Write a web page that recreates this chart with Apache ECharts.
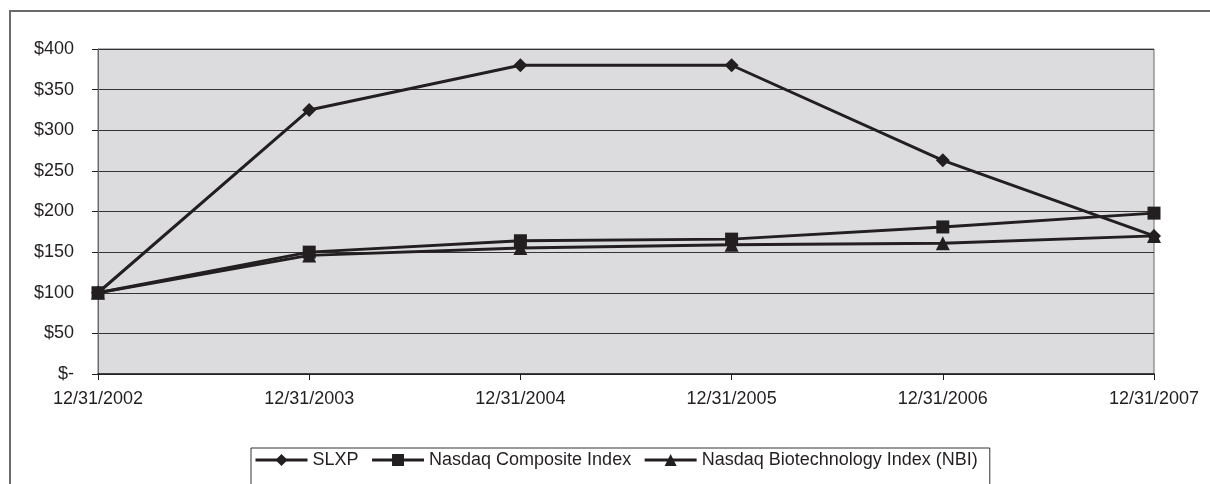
<!DOCTYPE html>
<html>
<head>
<meta charset="utf-8">
<script src="https://cdn.jsdelivr.net/npm/echarts@6/dist/echarts.min.js"></script>
<style>html,body{margin:0;padding:0;background:#fff}#c{width:1210px;height:484px}</style>
</head>
<body>
<div id="c"></div>
<script>
const categories = ['12/31/2002','12/31/2003','12/31/2004','12/31/2005','12/31/2006','12/31/2007'];
const slxp = [100, 325, 380, 380, 263, 170];
const nasdaqComposite = [100, 150, 164, 166, 181, 198];
const nasdaqBiotech = [100, 146, 155, 159, 161, 170];
const seriesNames = ['SLXP', 'Nasdaq Composite Index', 'Nasdaq Biotechnology Index (NBI)'];

const ink = '#231f20';
const chart = echarts.init(document.getElementById('c'));
function mk(name, data, symbol, size) {
  return {
    name, type: 'line', data, symbol, symbolSize: size,
    lineStyle: { color: ink, width: 3 },
    itemStyle: { color: ink },
    animation: false
  };
}
chart.setOption({
  animation: false,
  graphic: [{
    type: 'rect', silent: true, z: -10,
    shape: { x: 10, y: 11, width: 1300, height: 600 },
    style: { fill: 'none', stroke: '#6a6a6a', lineWidth: 2 }
  }],
  grid: { left: 98, right: 56, top: 49, bottom: 110, show: true, backgroundColor: '#dcdcde', borderColor: '#6a6a6a', borderWidth: 1 },
  legend: {
    left: 251, top: 448,
    padding: [3, 12, 30, 3],
    borderColor: '#333', borderWidth: 1,
    itemWidth: 52, itemHeight: 15, itemGap: 12,
    lineStyle: { width: 3, color: ink },
    textStyle: { fontFamily: 'Liberation Sans, Arial', fontSize: 18, color: ink, padding: [0, 0, 0, 0] },
    data: seriesNames
  },
  xAxis: {
    type: 'category', data: categories, boundaryGap: false,
    axisLine: { lineStyle: { color: ink, width: 1.5 } },
    axisTick: { show: true, length: 6, lineStyle: { color: ink } },
    axisLabel: { color: ink, fontFamily: 'Liberation Sans, Arial', fontSize: 18, margin: 16 },
    splitLine: { show: false }
  },
  yAxis: {
    type: 'value', min: 0, max: 400, interval: 50,
    axisLine: { show: true, lineStyle: { color: '#6a6a6a', width: 1 } },
    axisTick: { show: true, length: 6, lineStyle: { color: ink } },
    axisLabel: { color: ink, fontFamily: 'Liberation Sans, Arial', fontSize: 18, margin: 24,
      formatter: v => (v === 0 ? '$-' : '$' + v) },
    splitLine: { show: true, lineStyle: { color: '#333', width: 1 } }
  },
  series: [
    mk(seriesNames[0], slxp, 'diamond', 14),
    mk(seriesNames[1], nasdaqComposite, 'rect', 13),
    mk(seriesNames[2], nasdaqBiotech, 'triangle', 14)
  ]
});
</script>
</body>
</html>
